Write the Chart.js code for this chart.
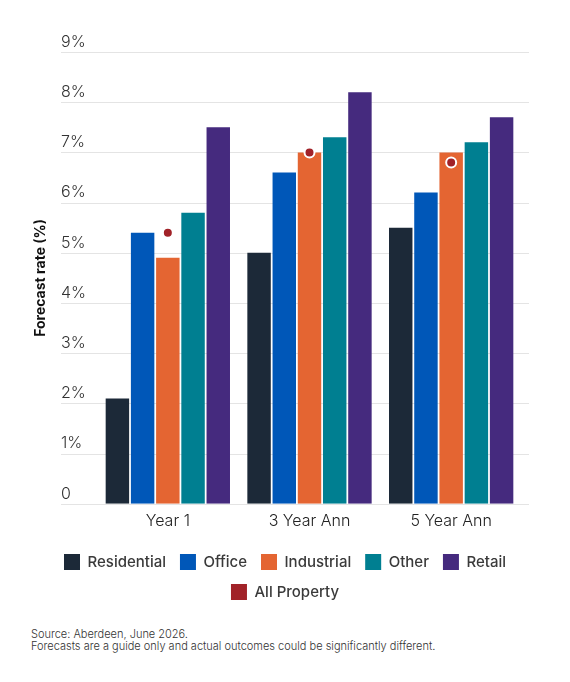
<!DOCTYPE html>
<html>
<head>
<meta charset="utf-8">
<script src="https://cdn.jsdelivr.net/npm/chart.js@4"></script>
<style>
  body { margin: 0; background: #fff; }
  #wrap { position: relative; width: 570px; height: 620px; }
  #note {
    position: absolute; left: 31px; top: 628px;
    font: 300 11px/12px Inter, "Noto Sans", sans-serif; color: #333;
  }
</style>
</head>
<body>
<div id="wrap"><canvas id="myChart"></canvas></div>
<div id="note">Source: Aberdeen, June 2026.<br>Forecasts are a guide only and actual outcomes could be significantly different.</div>
<script>
// Data
const categories = ["Year 1", "3 Year Ann", "5 Year Ann"];
const residential = [2.1, 5.0, 5.5];
const office = [5.4, 6.6, 6.2];
const industrial = [4.9, 7.0, 7.0];
const other = [5.8, 7.3, 7.2];
const retail = [7.5, 8.2, 7.7];
const allProperty = [5.4, 7.0, 6.8];
const yTicks = [0, 1, 2, 3, 4, 5, 6, 7, 8, 9];

const FONT = "Inter, 'Noto Sans', sans-serif";

function bar(label, values, color) {
  return {
    type: "bar",
    label: label,
    data: values,
    backgroundColor: color,
    borderWidth: 0,
    categoryPercentage: 0.89,
    barPercentage: 0.93,
    order: 1,
  };
}

// grid lines run a bit past the plot area, like the original
const wideGrid = {
  id: "wideGrid",
  beforeDatasetsDraw(chart) {
    const { ctx, chartArea } = chart;
    const y = chart.scales.y;
    ctx.save();
    ctx.strokeStyle = "#e4e4e4";
    ctx.lineWidth = 1;
    yTicks.forEach((t) => {
      const py = Math.round(y.getPixelForValue(t)) + 0.5;
      ctx.beginPath();
      ctx.moveTo(chartArea.left - 36, py);
      ctx.lineTo(chartArea.right + 7, py);
      ctx.stroke();
    });
    ctx.restore();
  },
};

const data = {
  labels: categories,
  datasets: [
    bar("Residential", residential, "#1c2938"),
    bar("Office", office, "#0057b8"),
    bar("Industrial", industrial, "#e46532"),
    bar("Other", other, "#007f91"),
    bar("Retail", retail, "#452a7e"),
    {
      type: "line",
      label: "All Property",
      data: allProperty,
      showLine: false,
      backgroundColor: "#a12228",
      borderColor: "#a12228",
      pointBackgroundColor: "#a12228",
      pointBorderColor: "#ffffff",
      pointBorderWidth: 2,
      pointRadius: 5,
      order: 0,
    },
  ],
};

const config = {
  data: data,
  plugins: [wideGrid],
  options: {
    responsive: true,
    maintainAspectRatio: false,
    animation: false,
    layout: { padding: { top: 52, left: 34, right: 34, bottom: 10 } },
    scales: {
      x: {
        grid: { display: false, drawTicks: false },
        border: { display: false },
        ticks: {
          color: "#222",
          padding: 8,
          font: { family: FONT, size: 16, weight: 300 },
        },
        afterFit: (s) => { s.height += 1; },
      },
      y: {
        min: 0,
        max: 9,
        grid: { display: false, drawTicks: false },
        border: { display: false },
        afterBuildTicks: (s) => { s.ticks = yTicks.map((v) => ({ value: v })); },
        ticks: {
          mirror: true,
          padding: -36,
          labelOffset: -10,
          color: "#333",
          font: { family: FONT, size: 16, weight: 300 },
          callback: (v) => (v === 0 ? "0" : v + "%"),
        },
        title: {
          display: true,
          text: "Forecast rate (%)",
          color: "#111",
          padding: 0,
          font: { family: FONT, size: 14, weight: "bold", lineHeight: 1 },
        },
        afterFit: (s) => { s.width = 63; },
      },
      y2: {
        position: "right",
        grid: { display: false },
        border: { display: false },
        ticks: { display: false },
        afterFit: (s) => { s.width = 14; },
      },
    },
    plugins: {
      legend: {
        position: "bottom",
        labels: {
          boxWidth: 16,
          boxHeight: 16,
          padding: 14,
          color: "#3a3a3a",
          font: { family: FONT, size: 15, weight: 500 },
          sort: (a, b) => a.datasetIndex - b.datasetIndex,
          generateLabels: (chart) => {
            const items = Chart.defaults.plugins.legend.labels.generateLabels(chart);
            items.forEach((it) => {
              it.lineWidth = 0;
              it.strokeStyle = "rgba(0,0,0,0)";
              it.fillStyle = chart.data.datasets[it.datasetIndex].backgroundColor;
            });
            return items;
          },
        },
      },
      tooltip: { enabled: false },
    },
  },
};

myChart = new Chart(document.getElementById("myChart"), config);
</script>
</body>
</html>
